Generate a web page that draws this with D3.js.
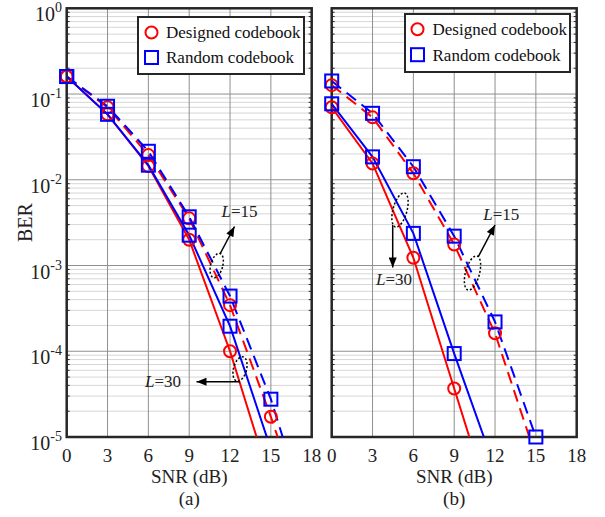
<!DOCTYPE html>
<html>
<head>
<meta charset="utf-8">
<script src="https://cdn.jsdelivr.net/npm/d3@7/dist/d3.min.js"></script>
<style>
  html, body { margin: 0; padding: 0; background: #fff; }
  svg { display: block; font-family: "Liberation Serif", "Times New Roman", serif; }
</style>
</head>
<body>
<svg id="chart" width="605" height="517"></svg>
<script>
// SNR sample points (dB)
const snr = [0, 3, 6, 9, 12, 15, 18];
const xTicks = [0, 3, 6, 9, 12, 15, 18];
const yTicks = [1, 1e-1, 1e-2, 1e-3, 1e-4, 1e-5];
const yTickExp = ["0", "-1", "-2", "-3", "-4", "-5"];
const legendLabels = ["Designed codebook", "Random codebook"];

// Panel (a) BER
const aDesigned15 = [0.16, 0.070, 0.0194, 0.00355, 3.45e-4, 1.72e-5, 6.6e-7];
const aRandom15   = [0.16, 0.072, 0.0215, 0.0037, 4.4e-4, 2.76e-5, 8.3e-7];
const aDesigned30 = [0.16, 0.058, 0.0145, 0.0020, 1.0e-4, 2.9e-6, 1.0e-7];
const aRandom30   = [0.16, 0.058, 0.0148, 0.00226, 1.96e-4, 7.2e-6, 2.5e-7];

// Panel (b) BER
const bDesigned15 = [0.127, 0.0535, 0.0119, 0.00176, 1.62e-4, 5.9e-6, 2.0e-7];
const bRandom15   = [0.142, 0.0596, 0.0142, 0.0022, 2.2e-4, 1.0e-5, 4.0e-7];
const bDesigned30 = [0.070, 0.0155, 0.00123, 3.68e-5, 1.1e-6, 3.0e-8, 1.0e-9];
const bRandom30   = [0.077, 0.0185, 0.00237, 9.4e-5, 4.3e-6, 2.0e-7, 1.0e-8];

const RED = "#ff0000", BLUE = "#0000ff";

const svg = d3.select("#chart");
const plotTop = 8.3, plotBottom = 437, plotW = 245;

const y = d3.scaleLog().domain([1e-5, 1]).range([plotBottom, plotTop]);

const defs = svg.append("defs");
defs.append("marker")
  .attr("id", "arrowhead")
  .attr("viewBox", "0 0 10 8")
  .attr("refX", 10).attr("refY", 4)
  .attr("markerWidth", 11).attr("markerHeight", 8)
  .attr("markerUnits", "userSpaceOnUse")
  .attr("orient", "auto")
  .append("path").attr("d", "M0,0 L10,4 L0,8 Z").attr("fill", "#000");

const panels = [
  {
    key: "a", x0: 66.7, caption: "(a)",
    series: [
      { values: aDesigned15, color: RED, dashed: true, shape: "circle" },
      { values: aRandom15, color: BLUE, dashed: true, shape: "square" },
      { values: aDesigned30, color: RED, dashed: false, shape: "circle" },
      { values: aRandom30, color: BLUE, dashed: false, shape: "square" }
    ],
    legend: { x: 138, y: 17, w: 166, h: 57, mx: 151.5, tx: 166, rows: [38.3, 63.3] },
    yLabels: true
  },
  {
    key: "b", x0: 331.7, caption: "(b)",
    series: [
      { values: bDesigned15, color: RED, dashed: true, shape: "circle" },
      { values: bRandom15, color: BLUE, dashed: true, shape: "square" },
      { values: bDesigned30, color: RED, dashed: false, shape: "circle" },
      { values: bRandom30, color: BLUE, dashed: false, shape: "square" }
    ],
    legend: { x: 405, y: 14, w: 165, h: 58, mx: 417.5, tx: 432.5, rows: [35, 60.5] },
    yLabels: false
  }
];

function drawMarker(g, shape, cx, cy, color) {
  if (shape === "circle") {
    g.append("circle").attr("cx", cx).attr("cy", cy).attr("r", 6)
      .attr("fill", "none").attr("stroke", color).attr("stroke-width", 2);
  } else {
    g.append("rect").attr("x", cx - 6.5).attr("y", cy - 6.5)
      .attr("width", 13).attr("height", 13)
      .attr("fill", "none").attr("stroke", color).attr("stroke-width", 2);
  }
}

panels.forEach(p => {
  const x = d3.scaleLinear().domain([0, 18]).range([p.x0, p.x0 + plotW]);
  const g = svg.append("g");

  // minor horizontal grid
  const minor = [];
  for (let e = -5; e < 0; e++) for (let m = 2; m <= 9; m++) minor.push(m * Math.pow(10, e));
  g.selectAll(".minor").data(minor).join("line")
    .attr("x1", x(0)).attr("x2", x(18))
    .attr("y1", d => y(d)).attr("y2", d => y(d))
    .attr("stroke", "#d6d6d6").attr("stroke-width", 1);

  // major grid
  g.selectAll(".hmaj").data(yTicks).join("line")
    .attr("x1", x(0)).attr("x2", x(18))
    .attr("y1", d => y(d)).attr("y2", d => y(d))
    .attr("stroke", "#8f8f8f").attr("stroke-width", 1);
  g.selectAll(".vmaj").data(xTicks).join("line")
    .attr("x1", d => x(d)).attr("x2", d => x(d))
    .attr("y1", plotTop).attr("y2", plotBottom)
    .attr("stroke", "#8f8f8f").attr("stroke-width", 1);

  // minor ticks inside left/right
  g.selectAll(".mtl").data(minor).join("line")
    .attr("x1", x(0)).attr("x2", x(0) + 3)
    .attr("y1", d => y(d)).attr("y2", d => y(d))
    .attr("stroke", "#262626").attr("stroke-width", 1);
  g.selectAll(".mtr").data(minor).join("line")
    .attr("x1", x(18) - 3).attr("x2", x(18))
    .attr("y1", d => y(d)).attr("y2", d => y(d))
    .attr("stroke", "#262626").attr("stroke-width", 1);

  // axes box
  g.append("rect")
    .attr("x", x(0)).attr("y", plotTop)
    .attr("width", plotW).attr("height", plotBottom - plotTop)
    .attr("fill", "none").attr("stroke", "#262626").attr("stroke-width", 2.5);

  // clip for curves
  const clipId = "clip-" + p.key;
  defs.append("clipPath").attr("id", clipId)
    .append("rect").attr("x", x(0)).attr("y", plotTop)
    .attr("width", plotW).attr("height", plotBottom - plotTop);

  const line = d3.line().x((d, i) => x(snr[i])).y(d => y(d));
  const curves = g.append("g").attr("clip-path", `url(#${clipId})`);
  p.series.forEach(s => {
    curves.append("path")
      .attr("d", line(s.values))
      .attr("fill", "none")
      .attr("stroke", s.color)
      .attr("stroke-width", 2)
      .attr("stroke-dasharray", s.dashed ? "12,7" : null);
  });

  const marks = g.append("g");
  p.series.forEach(s => {
    s.values.forEach((v, i) => {
      if (v >= 0.99e-5 && v <= 1) drawMarker(marks, s.shape, x(snr[i]), y(v), s.color);
    });
  });

  // x tick labels
  g.selectAll(".xt").data(xTicks).join("text")
    .attr("x", d => x(d)).attr("y", 462)
    .attr("text-anchor", "middle")
    .attr("font-size", 19).attr("fill", "#222")
    .text(d => d);

  // y tick labels
  if (p.yLabels) {
    yTicks.forEach((t, i) => {
      const tx = g.append("text")
        .attr("x", 62).attr("y", y(t) + 13)
        .attr("text-anchor", "end")
        .attr("font-size", 20).attr("fill", "#222");
      tx.append("tspan").text("10");
      tx.append("tspan").attr("dy", -9).attr("font-size", 14).text(yTickExp[i]);
    });
    svg.append("text")
      .attr("transform", `translate(31.5, ${(plotTop + plotBottom) / 2}) rotate(-90)`)
      .attr("text-anchor", "middle")
      .attr("font-size", 20).attr("fill", "#222")
      .text("BER");
  }

  // axis title and caption
  g.append("text")
    .attr("x", x(9)).attr("y", 483)
    .attr("text-anchor", "middle").attr("font-size", 19).attr("fill", "#222")
    .text("SNR (dB)");
  g.append("text")
    .attr("x", x(9)).attr("y", 505)
    .attr("text-anchor", "middle").attr("font-size", 19).attr("fill", "#222")
    .text(p.caption);

  // legend
  const L = p.legend;
  const lg = g.append("g");
  lg.append("rect").attr("x", L.x).attr("y", L.y).attr("width", L.w).attr("height", L.h)
    .attr("fill", "#fff").attr("stroke", "#262626").attr("stroke-width", 2);
  ["circle", "square"].forEach((shape, i) => {
    drawMarker(lg, shape, L.mx, L.rows[i] - 5.8, i === 0 ? RED : BLUE);
    lg.append("text").attr("x", L.tx).attr("y", L.rows[i])
      .attr("font-size", 17).attr("fill", "#111").text(legendLabels[i]);
  });
});

// annotations: group ellipse, arrow, label
function ellipse(cx, cy, rx, ry, angle) {
  svg.append("ellipse")
    .attr("cx", cx).attr("cy", cy).attr("rx", rx).attr("ry", ry)
    .attr("transform", `rotate(${angle},${cx},${cy})`)
    .attr("fill", "none").attr("stroke", "#000")
    .attr("stroke-width", 1.5).attr("stroke-dasharray", "2,2");
}
function arrow(x1, y1, x2, y2) {
  svg.append("line")
    .attr("x1", x1).attr("y1", y1).attr("x2", x2).attr("y2", y2)
    .attr("stroke", "#000").attr("stroke-width", 1.5)
    .attr("marker-end", "url(#arrowhead)");
}
function label(xp, yp, num) {
  const t = svg.append("text").attr("x", xp).attr("y", yp)
    .attr("font-size", 17).attr("fill", "#222");
  t.append("tspan").attr("font-style", "italic").text("L");
  t.append("tspan").text("=" + num);
}

// panel (a)
ellipse(216.7, 265.5, 6, 12.5, 15);
arrow(220, 254, 234.5, 226.5);
label(221.5, 217, 15);
ellipse(240, 369, 6.5, 12.5, 15);
arrow(240, 381.7, 196.5, 381.7);
label(145, 386.7, 30);

// panel (b)
ellipse(400, 210, 7, 17.5, 15);
arrow(392.7, 225, 392.7, 267.5);
label(376, 285, 30);
ellipse(472.5, 273, 7, 17.5, 15);
arrow(478.3, 256.7, 495, 225);
label(483.3, 220, 15);
</script>
</body>
</html>
